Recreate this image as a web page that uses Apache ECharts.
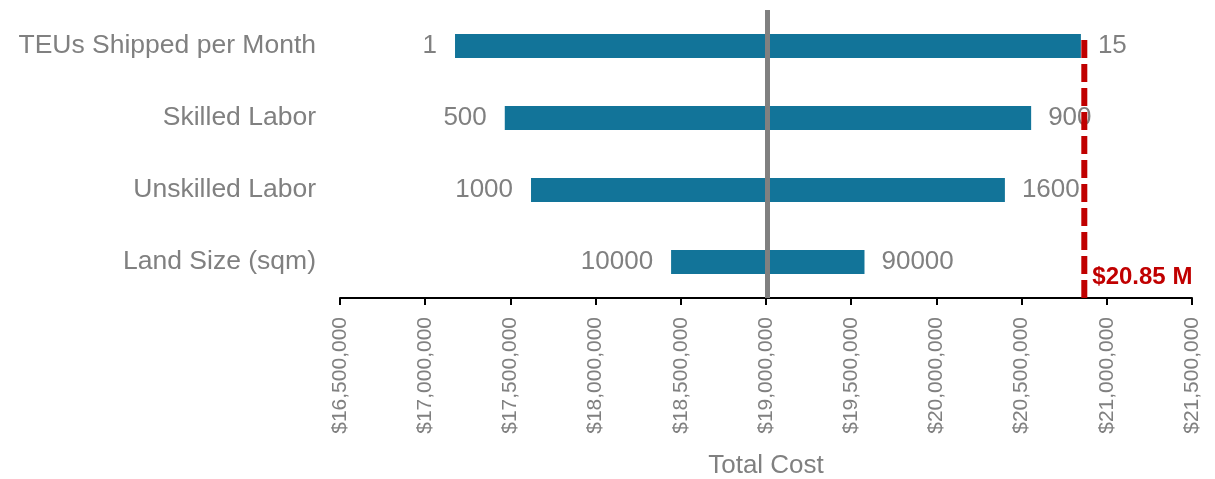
<!DOCTYPE html>
<html>
<head>
<meta charset="utf-8">
<script src="https://cdn.jsdelivr.net/npm/echarts@6/dist/echarts.min.js"></script>
<style>
html,body{margin:0;padding:0;background:#fff;}
#chart{width:1215px;height:479px;}
</style>
</head>
<body>
<div id="chart"></div>
<script>
// ---- data ----
const categories = ['TEUs Shipped per Month', 'Skilled Labor', 'Unskilled Labor', 'Land Size (sqm)'];
const lowCost  = [17175000, 17467000, 17621000, 18443000];
const highCost = [20848000, 20556000, 20402000, 19578000];
const lowInputs  = ['1', '500', '1000', '10000'];
const highInputs = ['15', '900', '1600', '90000'];
const baseCost = 19010000;
const maxCostLine = 20868000;
const maxCostLabel = '$20.85 M';
const axisMin = 16500000, axisMax = 21500000, axisStep = 500000;

const gray = '#808080';
const barColor = '#127499';
const font = 'Liberation Sans, Arial, sans-serif';

const chart = echarts.init(document.getElementById('chart'), null, {renderer: 'canvas'});

const placeholder = lowCost.slice();
const leftPart = lowCost.map((v, i) => baseCost - v);
const rightPart = highCost.map((v, i) => v - baseCost);

chart.setOption({
  animation: false,
  backgroundColor: '#fff',
  grid: {left: 340, right: 23, top: 10, bottom: 181, containLabel: false, outerBoundsMode: 'none'},
  xAxis: {
    type: 'value', min: axisMin, max: axisMax, interval: axisStep,
    name: 'Total Cost', nameLocation: 'middle', nameGap: 155,
    nameTextStyle: {color: gray, fontSize: 26, fontFamily: font},
    axisLine: {show: true, lineStyle: {color: '#000', width: 2}},
    axisTick: {show: true, length: 7, lineStyle: {color: '#000', width: 2}},
    splitLine: {show: false},
    axisLabel: {
      rotate: 90, margin: 19, color: gray, fontSize: 21, fontFamily: font,
      formatter: v => '$' + Math.round(v).toLocaleString('en-US')
    }
  },
  yAxis: [{
    type: 'category', data: categories, inverse: true,
    axisLine: {show: false}, axisTick: {show: false},
    axisLabel: {color: gray, fontSize: 26.5, fontFamily: font, margin: 24}
  }, {
    type: 'value', min: 0, max: 288, show: false
  }],
  series: [
    {
      type: 'bar', stack: 'tor', data: placeholder, barWidth: 24,
      itemStyle: {color: 'rgba(0,0,0,0)'}, silent: true
    },
    {
      type: 'bar', stack: 'tor', data: leftPart, barWidth: 24,
      itemStyle: {color: barColor},
      label: {show: true, position: 'left', distance: 18, color: gray, fontSize: 26, fontFamily: font,
        formatter: p => lowInputs[p.dataIndex]}
    },
    {
      type: 'bar', stack: 'tor', data: rightPart, barWidth: 24,
      itemStyle: {color: barColor},
      label: {show: true, position: 'right', distance: 17, color: gray, fontSize: 26, fontFamily: font,
        formatter: p => highInputs[p.dataIndex]},
      markLine: {
        silent: true, symbol: ['none', 'none'], z: 10,
        label: {show: false},
        lineStyle: {color: gray, width: 5, type: 'solid'},
        data: [{xAxis: baseCost}]
      }
    },
    {
      type: 'line', xAxisIndex: 0, yAxisIndex: 1, z: 20,
      symbol: 'circle', symbolSize: 0, showSymbol: true,
      lineStyle: {color: '#C00000', width: 6, type: [18, 6]},
      data: [
        {value: [maxCostLine, 0], label: {show: true, position: 'right', distance: 8, offset: [0, -21],
          formatter: maxCostLabel, color: '#C00000', fontSize: 24, fontWeight: 'bold', fontFamily: font}},
        {value: [maxCostLine, 261]}
      ]
    }
  ]
});
</script>
</body>
</html>
